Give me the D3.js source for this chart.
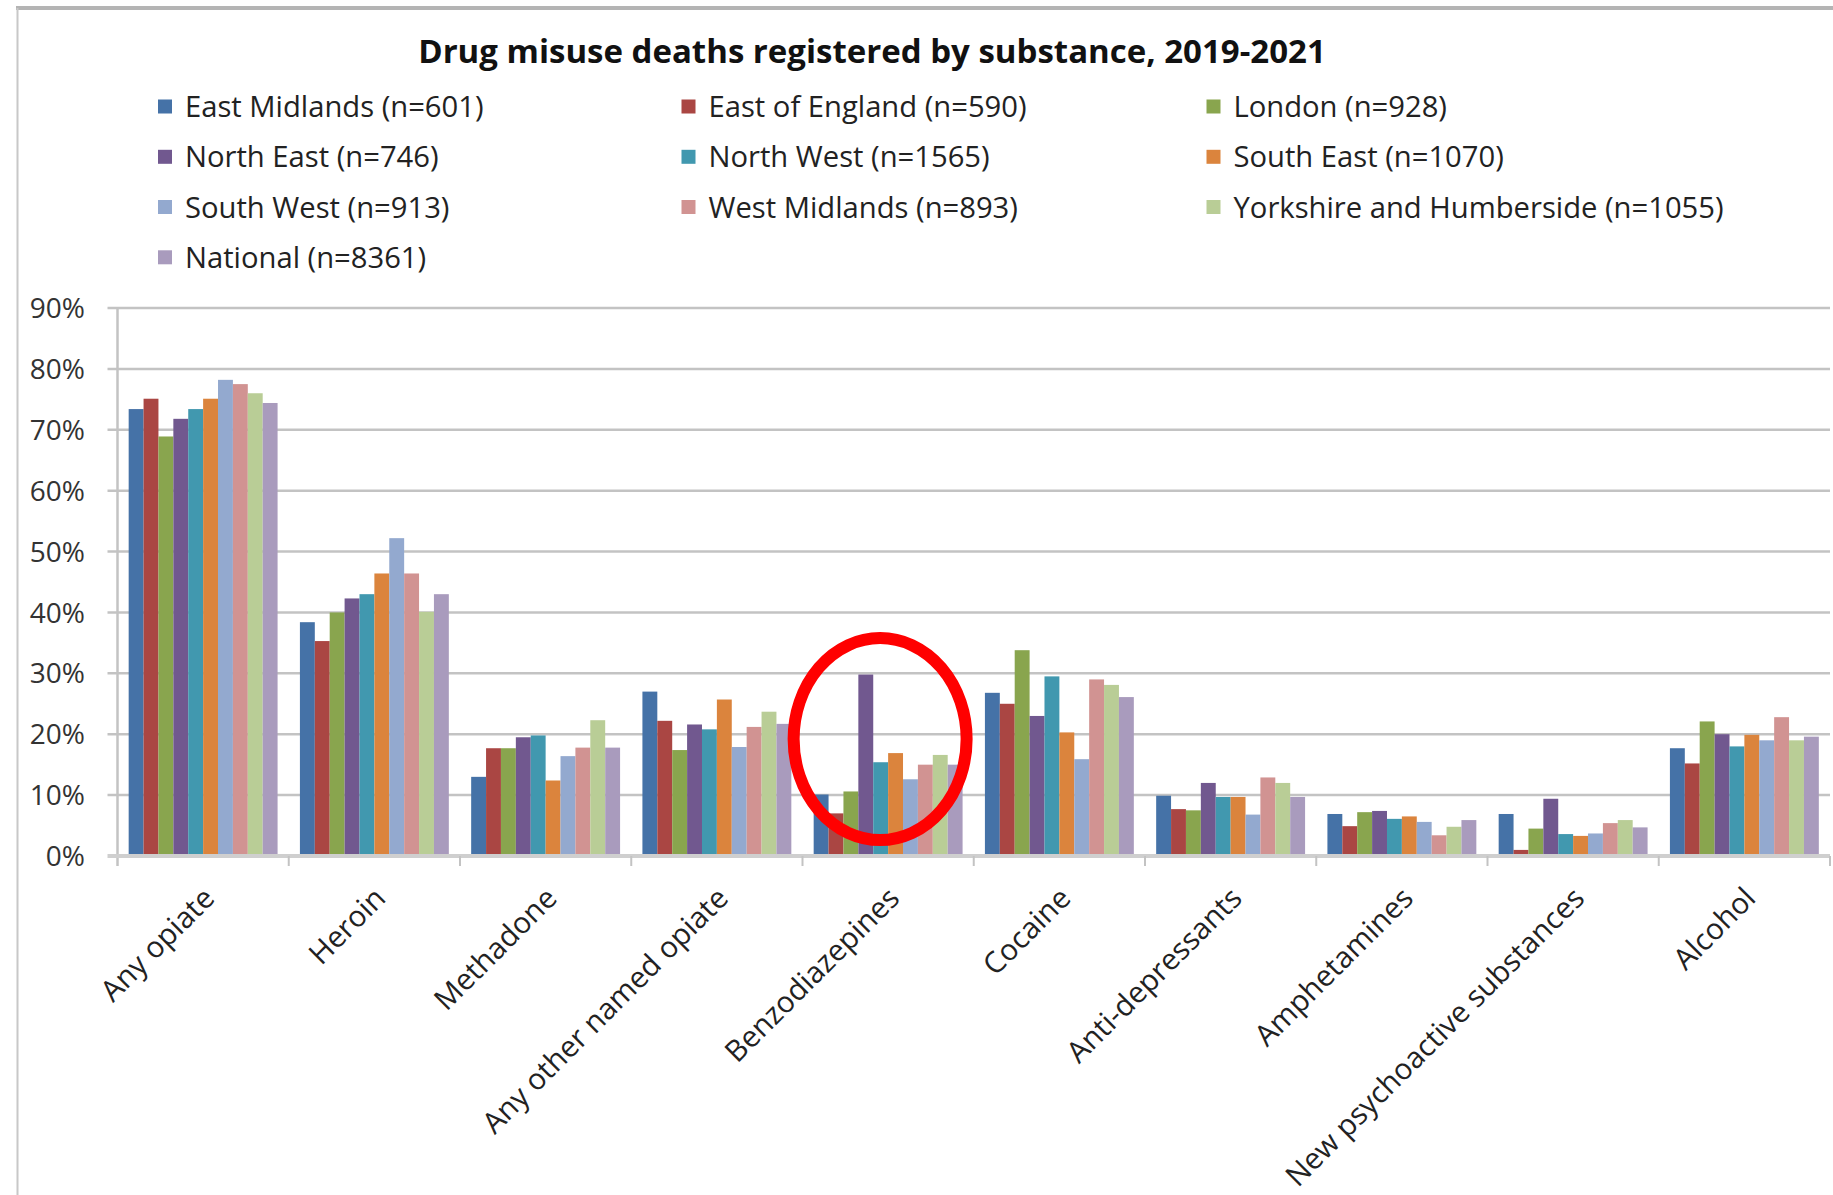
<!DOCTYPE html>
<html>
<head>
<meta charset="utf-8">
<script src="https://cdn.jsdelivr.net/npm/d3@7"></script>
<style>
  html, body { margin: 0; padding: 0; background: #fff; }
  svg { display: block; }
  text { font-family: "Open Sans", "Noto Sans", sans-serif; }
</style>
</head>
<body>
<svg id="chart" width="1833" height="1195"></svg>
<script>
// ---------------- data ----------------
const title = "Drug misuse deaths registered by substance, 2019-2021";

const categories = ["Any opiate", "Heroin", "Methadone", "Any other named opiate",
  "Benzodiazepines", "Cocaine", "Anti-depressants", "Amphetamines",
  "New psychoactive substances", "Alcohol"];

const seriesNames = ["East Midlands (n=601)", "East of England (n=590)", "London (n=928)",
  "North East (n=746)", "North West (n=1565)", "South East (n=1070)",
  "South West (n=913)", "West Midlands (n=893)", "Yorkshire and Humberside (n=1055)",
  "National (n=8361)"];

const seriesColors = ["#4572A7", "#AA4643", "#89A54E", "#71588F", "#4198AF",
  "#DB843D", "#93A9CF", "#D19392", "#B9CD96", "#A99BBD"];

// percentages, one array per region, in category order
const eastMidlands   = [73.4, 38.4, 13.0, 27.0, 10.1, 26.8,  9.9, 6.9, 6.9, 17.7];
const eastOfEngland  = [75.1, 35.3, 17.7, 22.2,  7.0, 25.0,  7.7, 4.9, 1.0, 15.2];
const london         = [68.9, 40.0, 17.7, 17.4, 10.6, 33.8,  7.5, 7.2, 4.5, 22.1];
const northEast      = [71.8, 42.3, 19.5, 21.6, 29.8, 23.0, 12.0, 7.4, 9.4, 20.0];
const northWest      = [73.4, 43.0, 19.8, 20.8, 15.4, 29.5,  9.7, 6.1, 3.6, 18.0];
const southEast      = [75.1, 46.4, 12.4, 25.7, 16.9, 20.3,  9.7, 6.5, 3.3, 19.9];
const southWest      = [78.2, 52.2, 16.4, 17.9, 12.6, 15.9,  6.8, 5.6, 3.7, 19.0];
const westMidlands   = [77.5, 46.4, 17.8, 21.2, 15.0, 29.0, 12.9, 3.4, 5.4, 22.8];
const yorkshire      = [76.0, 40.1, 22.3, 23.7, 16.6, 28.1, 12.0, 4.8, 5.9, 19.0];
const national       = [74.4, 43.0, 17.8, 21.7, 15.0, 26.1,  9.7, 5.9, 4.7, 19.6];

const seriesValues = [eastMidlands, eastOfEngland, london, northEast, northWest,
  southEast, southWest, westMidlands, yorkshire, national];

const yTicks = [0, 10, 20, 30, 40, 50, 60, 70, 80, 90];
const yTickLabels = ["0%", "10%", "20%", "30%", "40%", "50%", "60%", "70%", "80%", "90%"];

// highlighted annotation (category and value where the ring is centred)
const highlightCategory = "Benzodiazepines";
const highlightValue = 19.2;

// ---------------- layout ----------------
const svg = d3.select("#chart");
const W = 1833, H = 1195;
const plot = { left: 117.5, right: 1830, top: 308, bottom: 856 };

// chart frame
svg.append("line").attr("x1", 16).attr("x2", W).attr("y1", 8).attr("y2", 8)
  .attr("stroke", "#b4b4b4").attr("stroke-width", 4);
svg.append("line").attr("x1", 17.5).attr("x2", 17.5).attr("y1", 8).attr("y2", H)
  .attr("stroke", "#c8c8c8").attr("stroke-width", 2);

const x = d3.scaleBand().domain(categories).range([plot.left, plot.right]).padding(0);
const bw = x.bandwidth();
const barW = bw / 11.5;
const xs = d3.scaleBand().domain(seriesNames).range([0.75 * barW, bw - 0.75 * barW]).padding(0);
const y = d3.scaleLinear().domain([0, 90]).range([plot.bottom, plot.top]);

// gridlines (extend a bit left of the axis as tick marks)
const grid = svg.append("g");
grid.selectAll("line").data(yTicks.filter(t => t > 0)).join("line")
  .attr("x1", plot.left - 10).attr("x2", plot.right)
  .attr("y1", d => y(d)).attr("y2", d => y(d))
  .attr("stroke", "#c3c3c3").attr("stroke-width", 2.5);

// y tick labels
svg.append("g").selectAll("text").data(yTicks).join("text")
  .attr("x", 85).attr("y", d => y(d)).attr("dy", "0.36em")
  .attr("text-anchor", "end").attr("font-size", 28).attr("fill", "#333")
  .text((d, i) => yTickLabels[i]);

// bars
const groups = svg.append("g").selectAll("g").data(seriesNames).join("g")
  .attr("fill", (d, i) => seriesColors[i]);
groups.selectAll("rect")
  .data((s, si) => categories.map((c, ci) => ({ c, s, v: seriesValues[si][ci] })))
  .join("rect")
  .attr("x", d => x(d.c) + xs(d.s))
  .attr("width", xs.bandwidth())
  .attr("y", d => y(d.v))
  .attr("height", d => y(0) - y(d.v));

// y axis line
svg.append("line").attr("x1", plot.left).attr("x2", plot.left)
  .attr("y1", plot.top).attr("y2", plot.bottom + 10)
  .attr("stroke", "#c3c3c3").attr("stroke-width", 2.5);

// x axis line and ticks
svg.append("line").attr("x1", plot.left - 10).attr("x2", plot.right)
  .attr("y1", plot.bottom).attr("y2", plot.bottom)
  .attr("stroke", "#cfcfcf").attr("stroke-width", 4);
svg.append("g").selectAll("line").data(categories.slice(1).concat(["_end"])).join("line")
  .attr("x1", d => d === "_end" ? plot.right : x(d))
  .attr("x2", d => d === "_end" ? plot.right : x(d))
  .attr("y1", plot.bottom).attr("y2", plot.bottom + 10)
  .attr("stroke", "#c3c3c3").attr("stroke-width", 2);

// x labels rotated
svg.append("g").selectAll("text").data(categories).join("text")
  .attr("transform", d => `translate(${x(d) + bw / 2 + 13},${plot.bottom + 44}) rotate(-45)`)
  .attr("text-anchor", "end").attr("font-size", 29.5).attr("fill", "#222")
  .text(d => d);

// title
svg.append("text").attr("x", 872).attr("y", 63).attr("text-anchor", "middle")
  .attr("font-size", 33).attr("font-weight", "bold").attr("fill", "#111")
  .text(title);

// legend
const legendCols = [158, 681.5, 1206.5];
const legendRows = [106.5, 156.8, 207, 257.3];
const leg = svg.append("g").selectAll("g").data(seriesNames).join("g")
  .attr("transform", (d, i) => `translate(${legendCols[i % 3]},${legendRows[Math.floor(i / 3)]})`);
leg.append("rect").attr("x", 0).attr("y", -7).attr("width", 14).attr("height", 14)
  .attr("fill", (d, i) => seriesColors[i]);
leg.append("text").attr("x", 27).attr("y", 0).attr("dy", "0.36em")
  .attr("font-size", 29.2).attr("fill", "#222").text(d => d);

// highlight ring
svg.append("ellipse")
  .attr("cx", x(highlightCategory) + bw / 2 - 8)
  .attr("cy", y(highlightValue))
  .attr("rx", 86.5).attr("ry", 101)
  .attr("fill", "none").attr("stroke", "#ff0000").attr("stroke-width", 12);
</script>
</body>
</html>
